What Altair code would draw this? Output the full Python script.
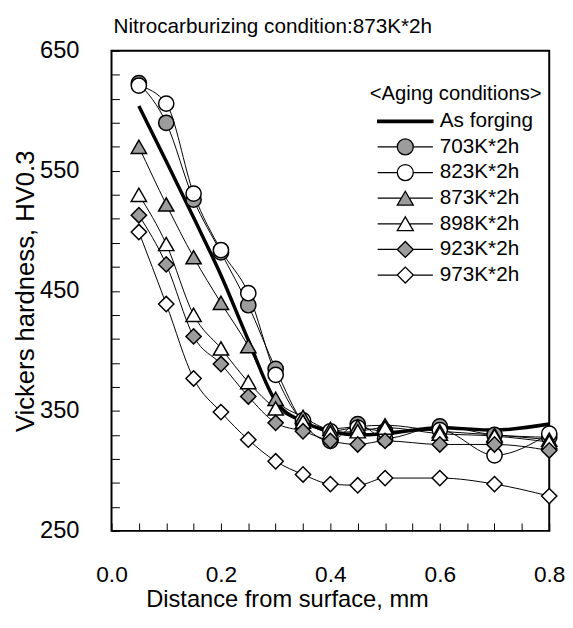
import altair as alt
import pandas as pd

# ---------------- data ----------------
x_vals = [0.05, 0.10, 0.15, 0.20, 0.25, 0.30, 0.35, 0.40, 0.45, 0.50, 0.60, 0.70, 0.80]
series_names = ["As forging", "703K*2h", "823K*2h", "873K*2h", "898K*2h", "923K*2h", "973K*2h"]
as_forging = [604, 558, 511, 463, 409, 358, 341, 333, 330, 331, 336, 334, 339]
k703 = [623, 590, 526, 482, 438, 385, 340, 325, 339, 327, 337, 330, 328]
k823 = [621, 606, 531, 484, 448, 380, 342, 333, 336, 333, 334, 313, 331]
k873 = [570, 522, 478, 440, 404, 360, 345, 335, 337, 338, 333, 330, 326]
k898 = [530, 489, 430, 402, 374, 352, 341, 332, 333, 336, 331, 329, 324]
k923 = [513, 472, 412, 389, 362, 340, 333, 325, 322, 325, 322, 322, 317]
k973 = [499, 439, 377, 349, 326, 308, 297, 289, 288, 294, 294, 289, 279]
all_values = [as_forging, k703, k823, k873, k898, k923, k973]

x_ticks = [round(i * 0.05, 2) for i in range(17)]
y_ticks = list(range(250, 651, 20))

rows = []
for name, vals in zip(series_names, all_values):
    for xv, yv in zip(x_vals, vals):
        rows.append({"series": name, "x": xv, "y": yv})
df = pd.DataFrame(rows)

aging = series_names[1:]
GRAY = "#9c9c9c"
plot_shapes = ["circle", "circle", "triangle-up", "triangle-up", "diamond", "diamond"]
plot_fills = [GRAY, "white", GRAY, "white", GRAY, "white"]

# legend glyphs: line with a marker in its middle (units: -1..1)
r = 0.29
h = 0.25
circ = f"M-1,0H{-r}M{r},0H1M{-r},0A{r},{r},0,1,0,{r},0A{r},{r},0,1,0,{-r},0Z"
tri = f"M-1,0H{-r/2}M{r/2},0H1M0,{-h}L{-r},{h}L{r},{h}Z"
dia = f"M-1,0H{-r}M{r},0H1M{-r},0L0,{-r}L{r},0L0,{r}Z"
thick = "M-1,-0.045H1V0.045H-1Z"
legend_shapes = [thick, circ, circ, tri, tri, dia, dia]
legend_fills = ["black", GRAY, "white", GRAY, "white", GRAY, "white"]

FONT = "Liberation Sans, Arial, sans-serif"

x_enc = alt.X(
    "x:Q",
    scale=alt.Scale(domain=[0, 0.8], nice=False, zero=False),
    axis=alt.Axis(
        values=x_ticks,
        format=".1f",
        labelExpr="(round(datum.value*100) % 20 == 0) ? datum.label : ''",
        title="Distance from surface, mm",
        offset=-8,
        tickSize=8,
        domain=False,
        grid=False,
        labelFlush=False,
        labelOverlap=False,
        labelFontSize=23,
        labelPadding=33,
        titlePadding=2,
        titleFontSize=24,
        titleX=178,
        titleAlign="center",
    ),
)
y_enc = alt.Y(
    "y:Q",
    scale=alt.Scale(domain=[250, 650], nice=False, zero=False),
    axis=alt.Axis(
        values=y_ticks,
        labelExpr="((datum.value - 250) % 100 == 0) ? datum.label : ''",
        title="Vickers hardness, HV0.3",
        offset=-8,
        tickSize=8,
        domain=False,
        grid=False,
        labelOverlap=False,
        labelFontSize=24,
        labelPadding=33,
        titlePadding=1,
        titleFontSize=26,
    ),
)

legend_props = dict(
    title="<Aging conditions>",
    orient="none",
    legendX=262,
    legendY=34,
    titleFontSize=20.5,
    titleFontWeight="normal",
    titleFont=FONT,
    titleColor="black",
    titlePadding=5,
    labelFontSize=21,
    labelFont=FONT,
    labelColor="black",
    symbolSize=3136,
    symbolStrokeColor="black",
    symbolFillColor="white",
    symbolStrokeWidth=1.3,
    symbolOpacity=1,
    symbolOffset=7,
    labelOffset=6,
    clipHeight=24,
    rowPadding=2,
)

base = alt.Chart(df)

thin_lines = base.transform_filter(alt.datum.series != "As forging").mark_line(
    color="black", strokeWidth=1, interpolate="monotone"
).encode(x=x_enc, y=y_enc, detail="series:N")

thick_line = base.transform_filter(alt.datum.series == "As forging").mark_line(
    color="black", strokeWidth=3.5, interpolate="monotone"
).encode(x=x_enc, y=y_enc)

points = base.transform_filter(alt.datum.series != "As forging").mark_point(
    filled=True, stroke="black", strokeWidth=1.5, size=240, opacity=1
).encode(
    x=x_enc,
    y=y_enc,
    shape=alt.Shape("series:N", scale=alt.Scale(domain=aging, range=plot_shapes), legend=None),
    fill=alt.Fill("series:N", scale=alt.Scale(domain=aging, range=plot_fills), legend=None),
)

legend_layer = base.transform_filter("false").mark_point(
    filled=False, stroke="black", strokeWidth=1.3, size=3136, opacity=1
).encode(
    x=x_enc,
    y=y_enc,
    shape=alt.Shape(
        "series:N",
        scale=alt.Scale(domain=series_names, range=legend_shapes),
        legend=alt.Legend(**legend_props),
    ),
    fill=alt.Fill(
        "series:N",
        scale=alt.Scale(domain=series_names, range=legend_fills),
        legend=alt.Legend(**legend_props),
    ),
)

chart = (
    alt.layer(thin_lines, thick_line, points, legend_layer)
    .resolve_scale(shape="independent", fill="independent")
    .properties(
        width=444,
        height=487,
        autosize=alt.AutoSizeParams(type="none"),
        padding={"left": 105, "top": 39, "right": 16, "bottom": 86},
        title=alt.TitleParams(
            "Nitrocarburizing condition:873K*2h",
            anchor="start",
            frame="group",
            fontSize=21,
            fontWeight="normal",
            font=FONT,
            color="black",
            offset=2,
            dx=2,
        ),
    )
    .configure_view(stroke="black", strokeWidth=2)
    .configure_legend(
        symbolStrokeColor="black",
        symbolStrokeWidth=1.3,
        symbolOpacity=1,
    )
    .configure_axis(
        labelFont=FONT,
        titleFont=FONT,
        titleFontWeight="normal",
        labelColor="black",
        titleColor="black",
        tickColor="black",
        tickWidth=1,
    )
)

chart.save("out.html", embed_options={"renderer": "svg", "actions": False})
